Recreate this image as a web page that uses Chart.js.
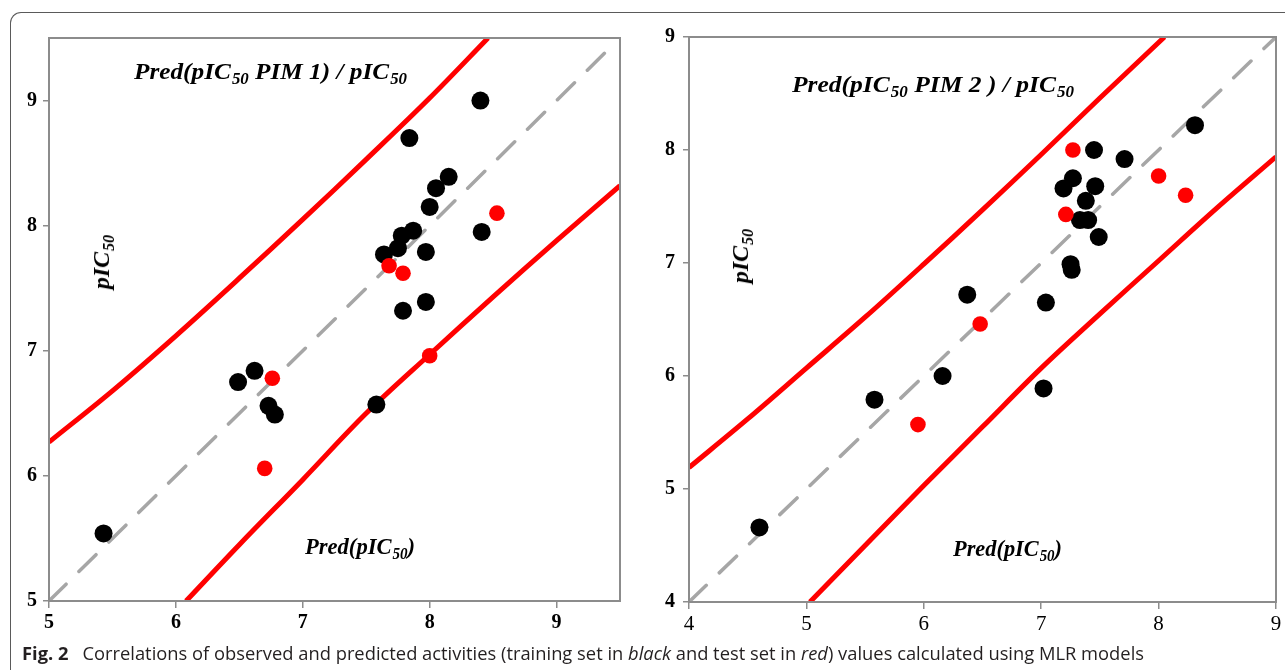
<!DOCTYPE html>
<html>
<head>
<meta charset="utf-8">
<script src="https://cdn.jsdelivr.net/npm/chart.js@4.4.1/dist/chart.umd.min.js"></script>
<style>
  html, body { margin:0; padding:0; background:#fff; }
  body { width:1285px; height:670px; position:relative; overflow:hidden; }
  .wrap { position:absolute; top:0; height:670px; }
  #frame { position:absolute; left:10px; top:11.5px; width:1400px; height:800px;
           border-left:1.5px solid #5a5a5a; border-top:1.5px solid #5a5a5a; border-top-left-radius:11px; }
  .ann { position:absolute; font-family:"Liberation Serif", serif; font-weight:bold; font-style:italic;
         font-size:24px; line-height:1; white-space:nowrap; color:#000; transform-origin:0 0; }
  .ann sub { font-size:16px; vertical-align:baseline; position:relative; top:5px; margin-left:1px; }
  .rot { transform:translate(-50%,-50%) rotate(-90deg); transform-origin:50% 50%; }
  #caption { position:absolute; left:22px; top:643px; font-family:"Open Sans", sans-serif; font-size:18px;
             color:#231f20; white-space:nowrap; transform-origin:0 0; line-height:1.2; }
  #caption b { font-weight:bold; margin-right:9px; }
</style>
</head>
<body>
<div id="frame"></div>
<div class="wrap" style="left:0;width:640px;"><canvas id="c1"></canvas></div>
<div class="wrap" style="left:640px;width:645px;"><canvas id="c2"></canvas></div>

<div class="ann fit" data-w="273" style="left:134px;top:59px;">Pred(pIC<sub>50</sub> PIM 1) / pIC<sub>50</sub></div>
<div class="ann rot" style="left:101px;top:262px;">pIC<sub>50</sub></div>
<div class="ann fit" data-w="110" style="left:305px;top:534px;">Pred(pIC<sub>50</sub>)</div>

<div class="ann fit" data-w="282" style="left:792px;top:72px;">Pred(pIC<sub>50</sub> PIM 2 ) / pIC<sub>50</sub></div>
<div class="ann rot" style="left:740px;top:256px;">pIC<sub>50</sub></div>
<div class="ann fit" data-w="109" style="left:953px;top:536px;">Pred(pIC<sub>50</sub>)</div>

<div id="caption"><b>Fig. 2</b> Correlations of observed and predicted activities (training set in <i>black</i> and test set in <i>red</i>) values calculated using MLR models</div>

<script>
// ---------- DATA ----------
// Left panel (PIM 1)
const xTicksL = [5, 6, 7, 8, 9];
const yTicksL = [5, 6, 7, 8, 9];
const trainL_x = [8.40, 7.84, 8.15, 8.05, 8.00, 7.87, 7.78, 7.75, 7.64, 7.97, 8.41, 7.97, 7.79, 7.58, 6.62, 6.49, 6.73, 6.78, 5.43];
const trainL_y = [9.00, 8.70, 8.39, 8.30, 8.15, 7.96, 7.92, 7.82, 7.77, 7.79, 7.95, 7.39, 7.32, 6.57, 6.84, 6.75, 6.56, 6.49, 5.54];
const testL_x  = [8.53, 7.68, 7.79, 6.76, 6.70, 8.00];
const testL_y  = [8.10, 7.68, 7.62, 6.78, 6.06, 6.96];
const upperL_x = [5.00, 5.50, 6.00, 6.50, 7.00, 7.50, 8.00, 8.46];
const upperL_y = [6.27, 6.68, 7.12, 7.58, 8.05, 8.53, 9.02, 9.50];
const lowerL_x = [6.08, 6.50, 7.00, 7.50, 8.00, 8.50, 9.00, 9.50];
const lowerL_y = [5.00, 5.45, 5.97, 6.50, 6.97, 7.43, 7.88, 8.32];
const diagL = [5, 9.45];

// Right panel (PIM 2)
const xTicksR = [4, 5, 6, 7, 8, 9];
const yTicksR = [4, 5, 6, 7, 8, 9];
const trainR_x = [8.31, 7.45, 7.71, 7.27, 7.19, 7.46, 7.38, 7.33, 7.40, 7.49, 7.25, 7.26, 7.04, 6.37, 6.16, 5.58, 7.02, 4.60];
const trainR_y = [8.22, 8.00, 7.92, 7.75, 7.66, 7.68, 7.55, 7.38, 7.38, 7.23, 6.99, 6.94, 6.65, 6.72, 6.00, 5.79, 5.89, 4.66];
const testR_x  = [7.27, 8.00, 8.23, 7.21, 6.48, 5.95];
const testR_y  = [8.00, 7.77, 7.60, 7.43, 6.46, 5.57];
const upperR_x = [4.00, 4.50, 5.00, 5.50, 6.00, 6.50, 7.00, 7.50, 8.05];
const upperR_y = [5.19, 5.62, 6.07, 6.52, 6.99, 7.47, 7.96, 8.46, 9.00];
const lowerR_x = [5.03, 5.50, 6.00, 6.50, 7.00, 7.50, 8.00, 8.50, 9.00];
const lowerR_y = [4.00, 4.50, 5.03, 5.55, 6.07, 6.55, 7.02, 7.49, 7.94];
const diagR = [4, 9];

// ---------- HELPERS ----------
const pts = (xs, ys) => xs.map((x, i) => ({x, y: ys[i]}));

const boxPlugin = {
  id: 'box',
  afterDatasetsDraw(chart) {
    const a = chart.chartArea, ctx = chart.ctx;
    ctx.save();
    ctx.strokeStyle = '#8c8c8c';
    ctx.lineWidth = 2;
    ctx.strokeRect(a.left, a.top, a.right - a.left, a.bottom - a.top);
    ctx.restore();
  }
};

function makeChart(id, cfg) {
  const el = document.getElementById(id);
  return new Chart(el, {
    type: 'scatter',
    data: {
      datasets: [
        { data: pts(cfg.testX, cfg.testY), backgroundColor: '#ff0000', borderWidth: 0, pointRadius: 7.8, order: 0 },
        { data: pts(cfg.trainX, cfg.trainY), backgroundColor: '#000000', borderWidth: 0, pointRadius: 9, order: 1 },
        { type: 'line', data: pts(cfg.upX, cfg.upY), borderColor: '#ff0000', borderWidth: 5, pointRadius: 0, tension: 0.35, fill: false, order: 2 },
        { type: 'line', data: pts(cfg.loX, cfg.loY), borderColor: '#ff0000', borderWidth: 5, pointRadius: 0, tension: 0.35, fill: false, order: 3 },
        { type: 'line', data: pts(cfg.diag, cfg.diag), borderColor: '#a6a6a6', borderWidth: 3.5, borderCapStyle: 'round',
          borderDash: [24, 18], pointRadius: 0, fill: false, order: 4 }
      ]
    },
    options: {
      responsive: false,
      animation: false,
      devicePixelRatio: 1,
      layout: { padding: { top: cfg.top, right: cfg.padR, left: 0, bottom: 0 } },
      plugins: { legend: { display: false }, tooltip: { enabled: false } },
      scales: {
        x: {
          type: 'linear', min: cfg.xmin, max: cfg.xmax,
          afterBuildTicks: s => { s.ticks = cfg.xTicks.map(v => ({value: v})); },
          afterFit: s => { s.height = cfg.H - cfg.bottom; },
          grid: { drawOnChartArea: false, drawTicks: true, tickLength: 7, color: '#8c8c8c', lineWidth: 1.5 },
          border: { display: true, color: '#8c8c8c', width: 2 },
          ticks: { color: '#000', padding: 3, font: { family: 'Liberation Serif', size: cfg.xSize, weight: cfg.xBold ? 'bold' : 'normal' } }
        },
        y: {
          type: 'linear', min: cfg.ymin, max: cfg.ymax,
          afterBuildTicks: s => { s.ticks = cfg.yTicks.map(v => ({value: v})); },
          afterFit: s => { s.width = cfg.yW; },
          grid: { drawOnChartArea: false, drawTicks: true, tickLength: 6, color: '#8c8c8c', lineWidth: 1.5 },
          border: { display: true, color: '#8c8c8c', width: 2 },
          ticks: { color: '#000', padding: cfg.yPad, font: { family: 'Liberation Serif', size: 20, weight: 'bold' } }
        }
      }
    },
    plugins: [boxPlugin]
  });
}

const H = 670;
document.getElementById('c1').width = 640; document.getElementById('c1').height = H;
document.getElementById('c2').width = 645; document.getElementById('c2').height = H;

makeChart('c1', {
  H, top: 38, padR: 20, bottom: 601, yW: 49, yPad: 6, xBold: true, xSize: 20,
  xmin: 5, xmax: 9.5, ymin: 5, ymax: 9.5, xTicks: xTicksL, yTicks: yTicksL,
  trainX: trainL_x, trainY: trainL_y, testX: testL_x, testY: testL_y,
  upX: upperL_x, upY: upperL_y, loX: lowerL_x, loY: lowerL_y, diag: diagL
});
makeChart('c2', {
  H, top: 37, padR: 9, bottom: 602, yW: 49, yPad: 8, xBold: false, xSize: 21,
  xmin: 4, xmax: 9, ymin: 4, ymax: 9, xTicks: xTicksR, yTicks: yTicksR,
  trainX: trainR_x, trainY: trainR_y, testX: testR_x, testY: testR_y,
  upX: upperR_x, upY: upperR_y, loX: lowerR_x, loY: lowerR_y, diag: diagR
});

// fit annotation / caption widths to the reference extents
document.querySelectorAll('.fit').forEach(el => {
  const w = el.getBoundingClientRect().width;
  el.style.transform = 'scaleX(' + (parseFloat(el.dataset.w) / w) + ')';
});
const cap = document.getElementById('caption');
cap.style.transform = 'scaleX(' + (1122 / cap.getBoundingClientRect().width) + ')';
</script>
</body>
</html>
